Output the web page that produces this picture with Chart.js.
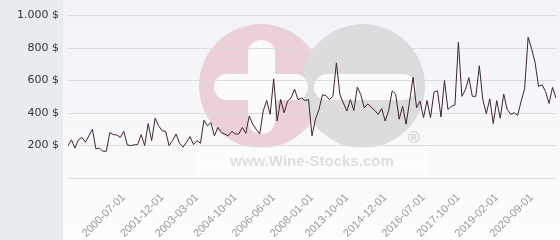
<!DOCTYPE html>
<html>
<head>
<meta charset="utf-8">
<script src="https://cdn.jsdelivr.net/npm/chart.js@4/dist/chart.umd.min.js"></script>
<style>
  html, body { margin: 0; padding: 0; background: #fff; }
  canvas { display: block; }
</style>
</head>
<body>
<canvas id="myChart" width="560" height="240"></canvas>
<script>
// prices in $, one per auction
const prices = [
    200, 235, 184, 235, 250, 220, 260, 300, 180, 184,
    165, 165, 280, 267, 265, 250, 287, 204, 200, 204,
    206, 267, 200, 335, 230, 368, 321, 291, 287, 200,
    230, 271, 214, 190, 220, 255, 206, 230, 214, 356,
    321, 341, 260, 311, 280, 270, 260, 287, 271, 271,
    311, 275, 382, 331, 300, 271, 412, 477, 392, 610,
    351, 483, 402, 473, 493, 547, 483, 493, 477, 483,
    260, 362, 422, 513, 507, 483, 503, 709, 513, 462,
    412, 483, 416, 559, 513, 432, 456, 436, 416, 392,
    428, 351, 416, 537, 517, 362, 442, 331, 473, 620,
    432, 473, 372, 477, 372, 529, 537, 376, 600, 422,
    442, 449, 836, 503, 543, 618, 503, 503, 691, 483,
    396, 487, 335, 477, 368, 517, 422, 392, 402, 386,
    473, 550, 867, 796, 711, 564, 574, 533, 459, 558,
    493
];

// the dates shown on the x axis and the auction they sit under
const tickLabels = [
    "2000-07-01", "2001-12-01", "2003-03-01", "2004-10-01", "2006-06-01", "2008-01-01",
    "2013-10-01", "2014-12-01", "2016-07-01", "2017-10-01", "2019-02-01", "2020-09-01"
];
const tickIndex = [16, 27, 37, 48, 59, 70, 80, 91, 102, 112, 123, 133];

const yTicks = [0, 200, 400, 600, 800, 1000];

let labels = prices.map(() => "");
tickIndex.forEach((idx, i) => { labels[idx] = tickLabels[i]; });

function formatPrice(v) {
    if (v == 0) return "";
    return String(v).replace(/\B(?=(\d{3})+(?!\d))/g, ".") + " $";
}

// background + watermark
const backdrop = {
    id: 'backdrop',
    beforeDraw(chart) {
        const c = chart.ctx;
        const w = chart.width, h = chart.height;
        c.save();
        let g = c.createLinearGradient(0, 0, 0, h);
        g.addColorStop(0, '#f2f3f7');
        g.addColorStop(1, '#fdfcfe');
        c.fillStyle = g;
        c.fillRect(0, 0, w, h);
        c.fillStyle = '#e8ecef';
        c.fillRect(0, 0, 63, h);

        // logo
        c.fillStyle = '#ebd0d8';
        c.beginPath(); c.arc(261, 86, 62, 0, Math.PI * 2); c.fill();
        c.fillStyle = '#dcdcde';
        c.beginPath(); c.arc(363, 86, 62, 0, Math.PI * 2); c.fill();
        c.fillStyle = '#fbfbfc';
        c.beginPath(); c.roundRect(248, 40, 27, 94, 13); c.fill();
        c.beginPath(); c.roundRect(214, 74, 94, 26, 13); c.fill();
        c.beginPath(); c.roundRect(314, 74, 102, 26, 13); c.fill();

        c.fillStyle = 'rgba(255,255,255,0.55)';
        c.fillRect(197, 147, 230, 26);
        c.fillStyle = '#dedede';
        c.font = 'bold 15px "Liberation Sans"';
        c.textAlign = 'center';
        c.textBaseline = 'alphabetic';
        c.fillText('www.Wine-Stocks.com', 312, 166);
        c.fillStyle = '#d2d2d2';
        c.font = 'bold 16px "Liberation Sans"';
        c.textBaseline = 'middle';
        c.fillText('\u00ae', 414, 139);
        c.restore();
    }
};

const ctx = document.getElementById('myChart');
const myGraph = new Chart(ctx, {
    type: 'line',
    data: {
        labels: labels,
        datasets: [{
            data: prices,
            borderColor: '#3d2530',
            borderWidth: 1,
            pointRadius: 0,
            tension: 0,
            fill: false,
        }]
    },
    options: {
        responsive: false,
        animation: false,
        layout: { padding: { top: 13, right: 4, left: 0, bottom: 0 } },
        plugins: {
            legend: { display: false },
            tooltip: { enabled: false },
        },
        scales: {
            x: {
                offset: false,
                grid: { display: false },
                border: { display: false },
                afterFit(scale) {
                    scale.height = 62;
                    scale.paddingLeft = 0;
                    scale.paddingRight = 0;
                },
                ticks: {
                    autoSkip: false,
                    minRotation: 45,
                    maxRotation: 45,
                    padding: 5,
                    color: '#999',
                    font: { family: 'Liberation Sans', size: 11 },
                },
            },
            y: {
                min: 0,
                max: 1000,
                afterFit(scale) { scale.width = 68; },
                afterBuildTicks(scale) { scale.ticks = yTicks.map(v => ({ value: v })); },
                grid: { color: '#dddddd', drawTicks: false },
                border: { display: false },
                ticks: {
                    padding: 9,
                    color: '#333',
                    font: { family: 'DejaVu Sans', size: 11 },
                    callback: (v) => formatPrice(v),
                },
            }
        }
    },
    plugins: [backdrop]
});
</script>
</body>
</html>
